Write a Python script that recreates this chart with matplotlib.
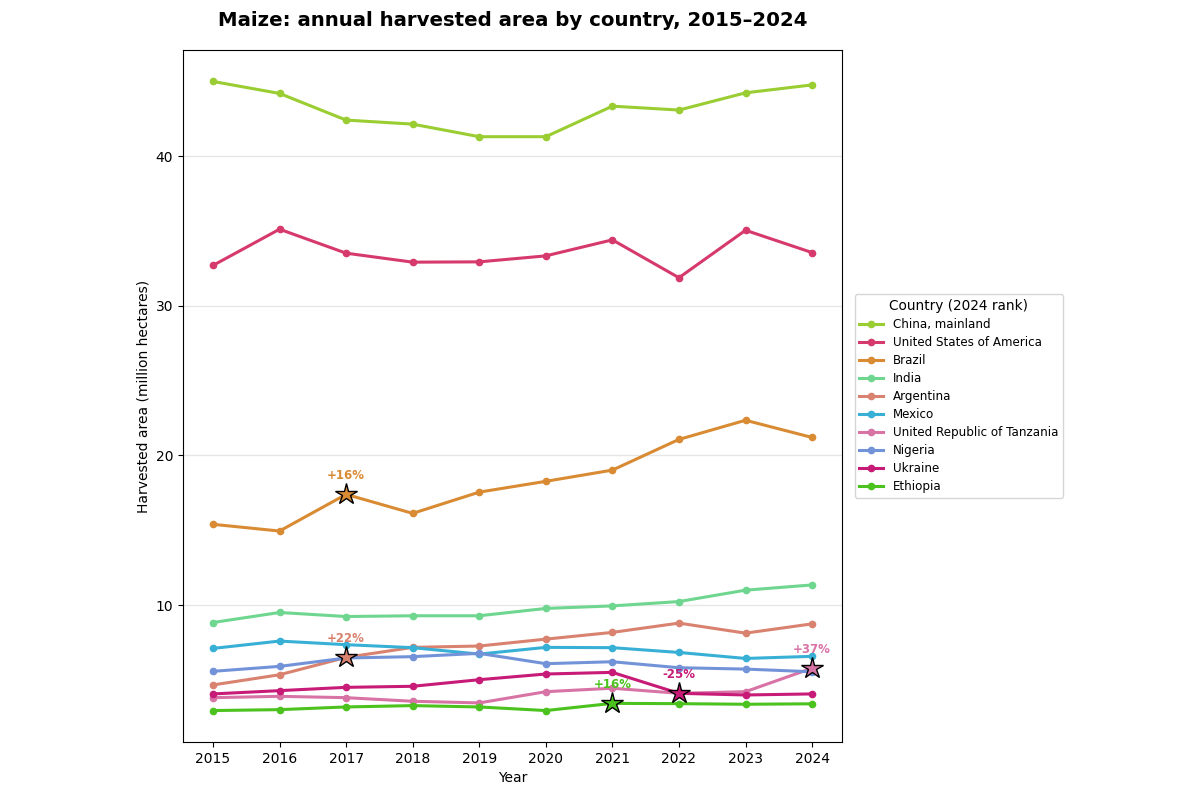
import numpy as np
import matplotlib
matplotlib.use("Agg")
import matplotlib.pyplot as plt

years = [2015, 2016, 2017, 2018, 2019, 2020, 2021, 2022, 2023, 2024]

countries = ["China, mainland", "United States of America", "Brazil", "India", "Argentina",
             "Mexico", "United Republic of Tanzania", "Nigeria", "Ukraine", "Ethiopia"]

china = [44.98, 44.18, 42.40, 42.13, 41.29, 41.29, 43.33, 43.07, 44.22, 44.75]
usa = [32.69, 35.11, 33.51, 32.91, 32.93, 33.33, 34.40, 31.87, 35.04, 33.55]
brazil = [15.40, 14.95, 17.40, 16.13, 17.55, 18.27, 19.02, 21.07, 22.35, 21.20]
india = [8.84, 9.51, 9.24, 9.29, 9.29, 9.78, 9.95, 10.24, 11.00, 11.35]
argentina = [4.67, 5.35, 6.51, 7.18, 7.27, 7.73, 8.18, 8.80, 8.13, 8.75]
mexico = [7.11, 7.60, 7.36, 7.16, 6.73, 7.18, 7.16, 6.84, 6.44, 6.58]
tanzania = [3.82, 3.91, 3.82, 3.58, 3.47, 4.22, 4.45, 4.11, 4.22, 5.79]
nigeria = [5.58, 5.91, 6.47, 6.56, 6.78, 6.09, 6.22, 5.82, 5.73, 5.55]
ukraine = [4.07, 4.29, 4.51, 4.58, 5.02, 5.40, 5.51, 4.11, 4.00, 4.07]
ethiopia = [2.96, 3.02, 3.20, 3.29, 3.20, 2.96, 3.44, 3.42, 3.38, 3.41]

series = [china, usa, brazil, india, argentina, mexico, tanzania, nigeria, ukraine, ethiopia]

colors = ['#9acd32', '#d6396c', '#d98b34', '#6fd690', '#d9826f',
          '#38b0d6', '#d873a6', '#7393d9', '#c71b77', '#4bc21e']

fig = plt.figure(figsize=(12, 8), dpi=100)
ax = fig.add_axes([0.1525, 0.0725, 0.5492, 0.865])

for name, vals, c in zip(countries, series, colors):
    ax.plot(years, vals, color=c, linewidth=2.2, marker='o', markersize=4.5, label=name)

# mark the biggest year-on-year jump per country if it is large
for vals, c in zip(series, colors):
    v = np.array(vals)
    pct = (v[1:] - v[:-1]) / v[:-1] * 100
    i = np.argmax(np.abs(pct))
    if abs(pct[i]) >= 15:
        ax.plot(years[i + 1], v[i + 1], marker='*', markersize=16, color=c,
                markeredgecolor='black', markeredgewidth=1.0, zorder=5)
        ax.annotate(f"{pct[i]:+.0f}%", (years[i + 1], v[i + 1]), xytext=(0, 9),
                    textcoords='offset points', ha='center', va='bottom',
                    color=c, fontsize=8.5, fontweight='bold')

ax.set_xticks(years)
ax.set_xlim(2014.55, 2024.45)
ax.grid(axis='y', color='#e6e6e6', linewidth=1)
ax.set_axisbelow(True)
ax.set_xlabel("Year", fontsize=10)
ax.set_ylabel("Harvested area (million hectares)", fontsize=10)
ax.set_title("Maize: annual harvested area by country, 2015\u20132024",
             fontsize=14.2, fontweight='bold', pad=17)

ax.legend(title="Country (2024 rank)", loc='center left', bbox_to_anchor=(1.01, 0.5),
          fontsize=8.6, title_fontsize=9.8, labelspacing=0.42)

fig.savefig("out.png", dpi=100)
